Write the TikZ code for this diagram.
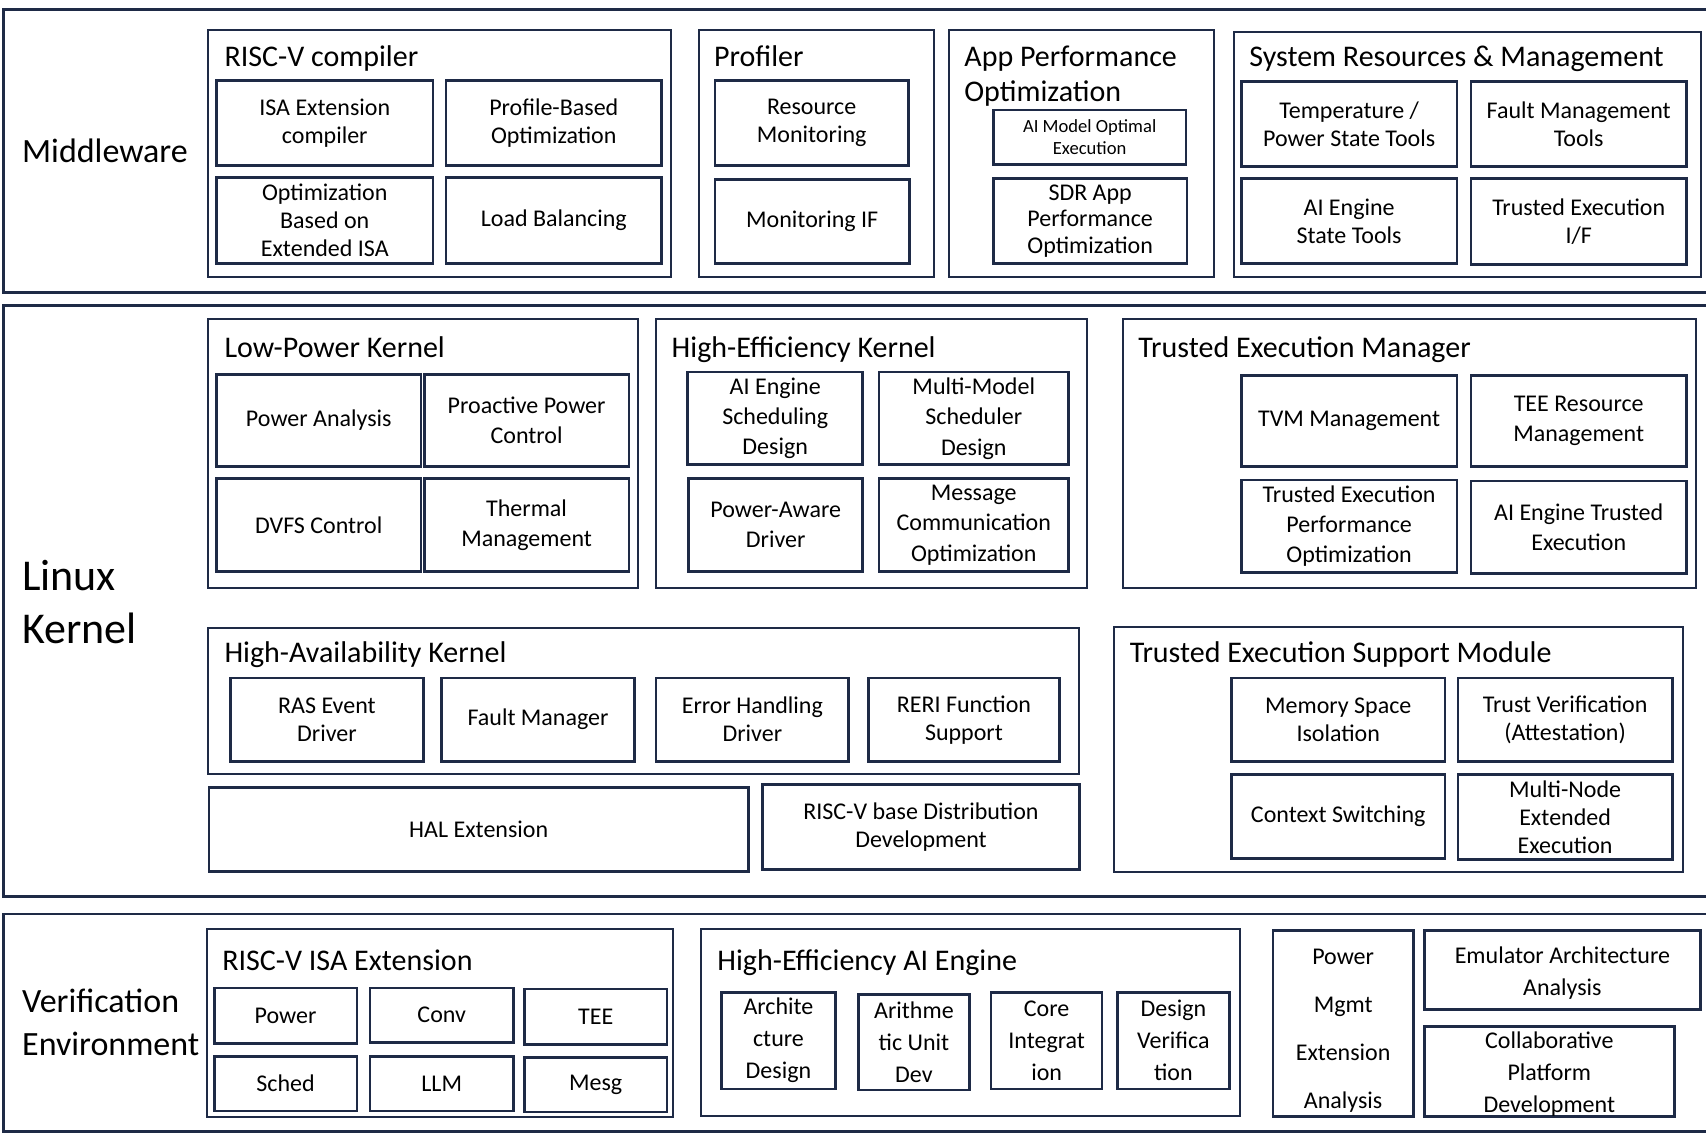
\documentclass[tikz,border=0pt]{standalone}
\usepackage{fontspec}
\setmainfont{Carlito}
\definecolor{navy}{RGB}{30,42,70}
\tikzset{
  span/.style n args={4}{at={({(#1+#3)/2},{(#2+#4)/2})},
    minimum width={(#3-#1)*0.544pt}, minimum height={(#4-#2)*0.544pt}},
  layer/.style={draw=navy, line width=1.4pt, inner sep=0pt},
  group/.style={draw=navy, line width=1pt, inner sep=0pt},
  item/.style={draw=navy, line width=1.3pt, inner sep=0pt, align=center, font=\fontsize{12}{14}\selectfont},
  itemsmall/.style={item, font=\fontsize{9.3}{11.4}\selectfont},
  grouptitle/.style={anchor=base west, inner sep=0pt, font=\fontsize{15}{18}\selectfont},
  layertitle/.style={anchor=base west, inner sep=0pt, font=\fontsize{17}{21}\selectfont},
  bigtitle/.style={anchor=base west, inner sep=0pt, font=\fontsize{22}{26}\selectfont},
}
\begin{document}
\begin{tikzpicture}[x=0.544pt, y=-0.544pt]
    \clip (0,0) rectangle (1568,1044);

    % Middleware
    \node[layer, span={3}{9}{1580}{269}] (mid) {};
    \node[layertitle] (mid-t) at (20,149) {Middleware};

    \node[group, span={191}{28}{617}{255}] (rvc) {};
    \node[grouptitle] (rvc-t) at (206,61) {RISC-V compiler};
    \node[item, span={199}{74}{398}{152}] (isacomp) {ISA Extension\\compiler};
    \node[item, span={410}{74}{608}{152}] (pbo) {Profile-Based\\Optimization};
    \node[item, span={199}{163}{398}{242}] (optisa) {Optimization\\Based on\\Extended ISA};
    \node[item, span={410}{163}{608}{242}] (lb) {Load Balancing};

    \node[group, span={642}{28}{858}{255}] (prof) {};
    \node[grouptitle] (prof-t) at (656,61) {Profiler};
    \node[item, span={657}{74}{835}{152}] (resmon) {Resource\\Monitoring};
    \node[item, span={657}{165}{836}{242}] (monif) {Monitoring IF};

    \node[group, span={872}{28}{1116}{255}] (apo) {};
    \node[grouptitle] (apo-t1) at (886,61) {App Performance};
    \node[grouptitle] (apo-t2) at (886,93) {Optimization};
    \node[itemsmall, span={913}{101}{1090}{151}] (aimodel) {AI Model Optimal\\Execution};
    \node[item, span={913}{164}{1091}{242}, font=\fontsize{12}{13.2}\selectfont] (sdr) {SDR App\\Performance\\Optimization};

    \node[group, span={1134}{29}{1563}{255}] (srm) {};
    \node[grouptitle] (srm-t) at (1148,61) {System Resources \& Management};
    \node[item, span={1141}{75}{1339}{153}] (temp) {Temperature /\\Power State Tools};
    \node[item, span={1352}{75}{1550}{153}] (fault) {Fault Management\\Tools};
    \node[item, span={1141}{164}{1339}{242}] (aistate) {AI Engine\\State Tools};
    \node[item, span={1352}{164}{1550}{243}] (teif) {Trusted Execution\\I/F};

    % Linux Kernel
    \node[layer, span={3}{281}{1580}{824}] (lin) {};
    \node[bigtitle] (lin-t1) at (20,543) {Linux};
    \node[bigtitle] (lin-t2) at (20,591) {Kernel};

    \node[group, span={191}{293}{586}{540}] (lpk) {};
    \node[grouptitle] (lpk-t) at (206,329) {Low-Power Kernel};
    \node[item, span={199}{344}{387}{429}, font=\fontsize{12}{15.2}\selectfont] (pwran) {Power Analysis};
    \node[item, span={390}{344}{578}{429}, font=\fontsize{12}{15.2}\selectfont] (proact) {Proactive Power\\Control};
    \node[item, span={199}{440}{387}{525}, font=\fontsize{12}{15.2}\selectfont] (dvfs) {DVFS Control};
    \node[item, span={390}{440}{578}{525}, font=\fontsize{12}{15.2}\selectfont] (therm) {Thermal\\Management};

    \node[group, span={603}{293}{999}{540}] (hek) {};
    \node[grouptitle] (hek-t) at (617,329) {High-Efficiency Kernel};
    \node[item, span={632}{342}{793}{427}, font=\fontsize{12}{15.2}\selectfont] (aisched) {AI Engine\\Scheduling\\Design};
    \node[item, span={808}{342}{982}{427}, font=\fontsize{12}{15.2}\selectfont] (mmsched) {Multi-Model\\Scheduler\\Design};
    \node[item, span={633}{440}{793}{525}, font=\fontsize{12}{15.2}\selectfont] (pwrdrv) {Power-Aware\\Driver};
    \node[item, span={808}{440}{982}{525}, font=\fontsize{12}{15.2}\selectfont] (msgopt) {Message\\Communication\\Optimization};

    \node[group, span={1032}{293}{1559}{540}] (tem) {};
    \node[grouptitle] (tem-t) at (1046,329) {Trusted Execution Manager};
    \node[item, span={1141}{345}{1339}{429}, font=\fontsize{12}{15.2}\selectfont] (tvm) {TVM Management};
    \node[item, span={1352}{345}{1550}{429}, font=\fontsize{12}{15.2}\selectfont] (teeres) {TEE Resource\\Management};
    \node[item, span={1141}{441}{1339}{526}, font=\fontsize{12}{15.2}\selectfont] (teperf) {Trusted Execution\\Performance\\Optimization};
    \node[item, span={1352}{442}{1550}{527}, font=\fontsize{12}{15.2}\selectfont] (aitrust) {AI Engine Trusted\\Execution};

    \node[group, span={191}{577}{992}{711}] (hak) {};
    \node[grouptitle] (hak-t) at (206,609) {High-Availability Kernel};
    \node[item, span={212}{623}{389}{700}] (ras) {RAS Event\\Driver};
    \node[item, span={406}{623}{583}{700}] (faultmgr) {Fault Manager};
    \node[item, span={603}{623}{780}{700}] (errdrv) {Error Handling\\Driver};
    \node[item, span={798}{623}{974}{700}] (reri) {RERI Function\\Support};

    \node[item, span={192}{724}{688}{801}] (hal) {HAL Extension};
    \node[item, span={701}{721}{992}{799}] (distro) {RISC-V base Distribution\\Development};

    \node[group, span={1024}{576}{1547}{801}] (tesm) {};
    \node[grouptitle] (tesm-t) at (1038,609) {Trusted Execution Support Module};
    \node[item, span={1132}{623}{1328}{700}] (memiso) {Memory Space\\Isolation};
    \node[item, span={1340}{623}{1537}{700}] (attest) {Trust Verification\\(Attestation)};
    \node[item, span={1132}{712}{1328}{789}] (ctxsw) {Context Switching};
    \node[item, span={1340}{712}{1537}{790}] (multinode) {Multi-Node\\Extended\\Execution};

    % Verification Environment
    \node[layer, span={3}{840}{1580}{1040}] (ver) {};
    \node[layertitle] (ver-t1) at (20,931) {Verification};
    \node[layertitle] (ver-t2) at (20,970) {Environment};

    \node[group, span={190}{854}{619}{1027}] (isaext) {};
    \node[grouptitle] (isaext-t) at (204,892) {RISC-V ISA Extension};
    \node[item, span={197}{908}{328}{959}] (xpower) {Power};
    \node[item, span={340}{908}{472}{958}] (xconv) {Conv};
    \node[item, span={482}{909}{613}{960}] (xtee) {TEE};
    \node[item, span={197}{971}{328}{1021}] (xsched) {Sched};
    \node[item, span={340}{971}{472}{1021}] (xllm) {LLM};
    \node[item, span={482}{972}{613}{1022}] (xmesg) {Mesg};

    \node[group, span={644}{854}{1140}{1026}] (heai) {};
    \node[grouptitle] (heai-t) at (659,892) {High-Efficiency AI Engine};
    \node[item, span={663}{912}{768}{1001}, font=\fontsize{12}{16}\selectfont] (archd) {Archite\\cture\\Design};
    \node[item, span={789}{914}{891}{1002}, font=\fontsize{12}{16}\selectfont] (arith) {Arithme\\tic Unit\\Dev};
    \node[item, span={911}{912}{1013}{1001}, font=\fontsize{12}{16}\selectfont] (coreint) {Core\\Integrat\\ion};
    \node[item, span={1027}{912}{1130}{1001}, font=\fontsize{12}{16}\selectfont] (desver) {Design\\Verifica\\tion};

    \node[item, span={1170}{855}{1299}{1026}, font=\fontsize{12}{24}\selectfont] (pwrmgmt) {\rule{0pt}{15pt}Power\\Mgmt\\Extension\\Analysis};
    \node[item, span={1309}{855}{1563}{928}, font=\fontsize{12}{16}\selectfont] (emu) {\rule{0pt}{11pt}Emulator Architecture\\Analysis};
    \node[item, span={1309}{944}{1539}{1026}, font=\fontsize{12}{16}\selectfont] (collab) {\rule{0pt}{11pt}Collaborative\\Platform\\Development};
\end{tikzpicture}
\end{document}
